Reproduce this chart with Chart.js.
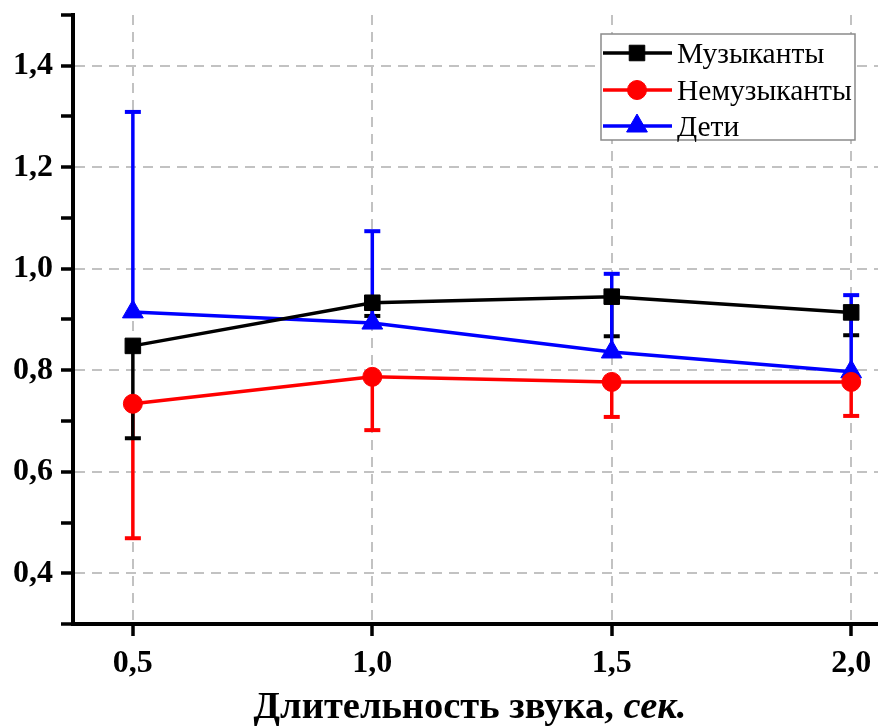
<!DOCTYPE html>
<html>
<head>
<meta charset="utf-8">
<script src="https://cdn.jsdelivr.net/npm/chart.js@4/dist/chart.umd.min.js"></script>
<style>
  html, body { margin: 0; padding: 0; background: #fff; }
  #wrap { position: relative; width: 878px; height: 728px; }
  #xtitle { position: absolute; left: 0; width: 940px; top: 686px; text-align: center;
    font: bold 38.5px "Liberation Serif", "Times New Roman", serif; line-height: 1; color: #000; white-space: nowrap; }
</style>
</head>
<body>
<div id="wrap">
  <canvas id="c" width="878" height="728"></canvas>
  <div id="xtitle">Длительность звука, <i>сек.</i></div>
</div>
<script>
const xValues = [0.5, 1.0, 1.5, 2.0];
const xTickLabels = ['0,5', '1,0', '1,5', '2,0'];
const yTickValues = [0.3, 0.4, 0.5, 0.6, 0.7, 0.8, 0.9, 1.0, 1.1, 1.2, 1.3, 1.4, 1.5];
const yTickLabels = ['', '0,4', '', '0,6', '', '0,8', '', '1,0', '', '1,2', '', '1,4', ''];
const seriesNames = ['Музыканты', 'Немузыканты', 'Дети'];

const musicians = [0.848, 0.933, 0.945, 0.914];
const musiciansErrEnd = [0.666, 0.907, 0.867, 0.869];
const nonMusicians = [0.734, 0.787, 0.777, 0.777];
const nonMusiciansErrEnd = [0.469, 0.682, 0.708, 0.710];
const children = [0.915, 0.893, 0.836, 0.797];
const childrenErrEnd = [1.309, 1.074, 0.990, 0.948];

const toPts = ys => xValues.map((x, i) => ({ x: x, y: ys[i] }));

Chart.defaults.font.family = '"Liberation Serif", "Times New Roman", serif';
Chart.defaults.color = '#000';

const errorBars = {
  id: 'errorBars',
  beforeDatasetsDraw(chart) {
    const ctx = chart.ctx;
    const xs = chart.scales.x, ys = chart.scales.y;
    const order = [1, 0, 2];
    order.forEach(di => {
      const ds = chart.data.datasets[di];
      ctx.save();
      ctx.strokeStyle = ds.borderColor;
      ctx.lineCap = 'butt';
      ds.errEnd.forEach((e, i) => {
        const px = xs.getPixelForValue(ds.data[i].x);
        const p0 = ys.getPixelForValue(ds.data[i].y);
        const p1 = ys.getPixelForValue(e);
        ctx.lineWidth = 3.5;
        ctx.beginPath(); ctx.moveTo(px, p0); ctx.lineTo(px, p1); ctx.stroke();
        ctx.lineWidth = 4;
        ctx.beginPath(); ctx.moveTo(px - 8, p1); ctx.lineTo(px + 8, p1); ctx.stroke();
      });
      ctx.restore();
    });
  }
};

const boxLegend = {
  id: 'boxLegend',
  afterDraw(chart) {
    const ctx = chart.ctx;
    const bx = 601, by = 34, bw = 254, bh = 106;
    ctx.save();
    ctx.fillStyle = '#fff';
    ctx.fillRect(bx, by, bw, bh);
    ctx.strokeStyle = '#8a8a8a';
    ctx.lineWidth = 1.5;
    ctx.strokeRect(bx, by, bw, bh);
    const rows = [53, 90, 126];
    chart.data.datasets.forEach((ds, i) => {
      const ry = rows[i];
      ctx.strokeStyle = ds.borderColor;
      ctx.lineWidth = 3.5;
      ctx.beginPath(); ctx.moveTo(603, ry); ctx.lineTo(672, ry); ctx.stroke();
      ctx.fillStyle = ds.pointBackgroundColor;
      ctx.strokeStyle = ds.pointBorderColor;
      ctx.lineWidth = ds.pointBorderWidth;
      Chart.helpers.drawPoint(ctx, { pointStyle: ds.pointStyle, radius: ds.pointRadius, rotation: 0, borderWidth: ds.pointBorderWidth }, 637, ry);
      ctx.fillStyle = '#000';
      ctx.font = '29.5px "Liberation Serif", "Times New Roman", serif';
      ctx.textBaseline = 'alphabetic';
      ctx.textAlign = 'left';
      ctx.fillText(ds.label, 677, ry + 10);
    });
    ctx.restore();
  }
};

const mkDs = (label, ys, err, color, style, r) => ({
  label: label,
  data: toPts(ys),
  errEnd: err,
  borderColor: color,
  backgroundColor: color,
  pointBackgroundColor: color,
  pointBorderColor: color,
  pointBorderWidth: 1,
  pointStyle: style,
  pointRadius: r,
  borderWidth: 3.5,
  tension: 0,
  fill: false
});

const noPad = s => { s.paddingLeft = 0; s.paddingRight = 0; s.paddingTop = 0; s.paddingBottom = 0; };

new Chart(document.getElementById('c'), {
  type: 'line',
  data: {
    datasets: [
      mkDs(seriesNames[0], musicians, musiciansErrEnd, '#000000', 'rect', 11),
      mkDs(seriesNames[1], nonMusicians, nonMusiciansErrEnd, '#ff0000', 'circle', 9.5),
      mkDs(seriesNames[2], children, childrenErrEnd, '#0000ff', 'triangle', 12)
    ]
  },
  options: {
    responsive: false,
    animation: false,
    devicePixelRatio: 1,
    layout: { autoPadding: false, padding: { top: 15, right: 0, bottom: 0, left: 0 } },
    plugins: { legend: { display: false }, tooltip: { enabled: false } },
    scales: {
      x: {
        type: 'linear',
        min: 0.375,
        max: 2.056,
        afterBuildTicks: s => { s.ticks = xValues.map(v => ({ value: v })); },
        afterFit: s => { s.height = 104; noPad(s); },
        ticks: {
          callback: (v, i) => xTickLabels[i],
          font: { size: 32, weight: 'bold' },
          color: '#000',
          padding: 9,
          maxRotation: 0,
          autoSkip: false
        },
        grid: { color: '#c2c2c2', lineWidth: 2, tickColor: '#000', tickWidth: 3.5, tickLength: 12, drawTicks: true },
        border: { display: true, color: '#000', width: 4, dash: [10, 7] }
      },
      y: {
        type: 'linear',
        min: 0.3,
        max: 1.5,
        afterBuildTicks: s => { s.ticks = yTickValues.map(v => ({ value: v })); },
        afterFit: s => { s.width = 73; noPad(s); },
        ticks: {
          callback: (v, i) => yTickLabels[i],
          font: { size: 32, weight: 'bold' },
          color: '#000',
          padding: 8,
          autoSkip: false
        },
        grid: {
          color: c => (yTickLabels[c.index] ? '#c2c2c2' : 'rgba(0,0,0,0)'),
          lineWidth: 2,
          tickColor: '#000',
          tickWidth: 3.5,
          tickLength: 12,
          drawTicks: true
        },
        border: { display: true, color: '#000', width: 4, dash: [10, 7] }
      }
    }
  },
  plugins: [errorBars, boxLegend]
});
</script>
</body>
</html>
